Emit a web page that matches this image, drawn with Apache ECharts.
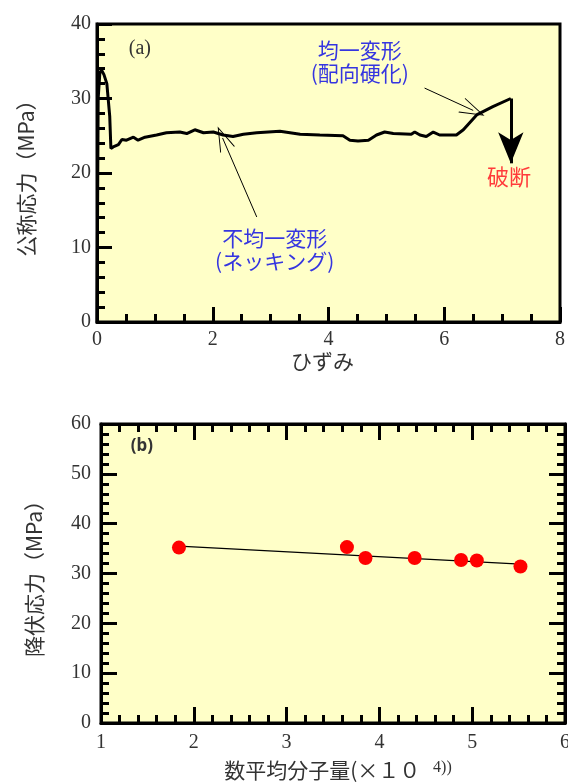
<!DOCTYPE html>
<html>
<head>
<meta charset="utf-8">
<script src="https://cdn.jsdelivr.net/npm/echarts@6/dist/echarts.min.js"></script>
<style>
  html, body { margin: 0; padding: 0; background: #fff; }
  #main { width: 568px; height: 783px; }
</style>
</head>
<body>
<div id="main"></div>
<script>
// (a) nominal stress vs strain
const strainA = [0, 0.02, 0.05, 0.08, 0.12, 0.17, 0.22, 0.24, 0.28, 0.37,
  0.43, 0.51, 0.63, 0.71, 0.83, 1.03, 1.2, 1.43, 1.55, 1.69,
  1.84, 2.01, 2.18, 2.35, 2.53, 2.76, 3.16, 3.51, 3.85, 4.25,
  4.37, 4.51, 4.69, 4.83, 4.97, 5.12, 5.43, 5.49, 5.58, 5.69,
  5.81, 5.92, 6.21, 6.33, 6.56, 6.84, 7.15];
const stressA = [0, 30, 33.5, 33.8, 33.2, 32.0, 27.6, 23.3, 23.5, 23.8,
  24.5, 24.4, 24.8, 24.4, 24.8, 25.1, 25.4, 25.5, 25.3, 25.8,
  25.4, 25.5, 25.1, 24.9, 25.2, 25.4, 25.6, 25.2, 25.1, 25.0,
  24.4, 24.3, 24.4, 25.1, 25.5, 25.3, 25.2, 25.5, 25.1, 24.9,
  25.5, 25.1, 25.1, 25.8, 27.8, 28.9, 30.0];

// (b) yield stress vs number average molecular weight (x10^4)
const molWeight = [1.84, 3.65, 3.85, 4.38, 4.88, 5.05, 5.52];
const yieldStress = [35.2, 35.3, 33.1, 33.1, 32.7, 32.6, 31.4];
const fitX = [1.84, 5.52];
const fitY = [35.5, 31.9];

// tick values
const ticksA_x = [0, 2, 4, 6, 8];
const ticksA_y = [0, 10, 20, 30, 40];
const ticksB_x = [1, 2, 3, 4, 5, 6];
const ticksB_y = [0, 10, 20, 30, 40, 50, 60];

const chart = echarts.init(document.getElementById('main'));

const serif = 'Liberation Serif';
const cjk = 'Noto Sans CJK JP';
const thinHead = 'path://M0,0 L8,25 L7,25 L0,3 L-7,25 L-8,25 Z';

// shared look of every axis: thick black frame, ticks pointing inside
function axis(o) {
  return Object.assign({
    type: 'value',
    axisLine: { show: true, onZero: false, lineStyle: { color: '#000', width: 3 } },
    axisTick: { show: true, inside: true, length: o.tickLen || 15, lineStyle: { color: '#000', width: 3 } },
    minorTick: { show: true, splitNumber: o.minor, length: o.minorLen || 8, lineStyle: { color: '#000', width: 3 } },
    splitLine: { show: false },
    axisLabel: { show: o.label !== false, color: '#333', fontFamily: serif, fontSize: 20, margin: o.margin || 8 }
  }, o.rest);
}

const nameStyle = { color: '#333', fontFamily: cjk, fontSize: 21 };

chart.setOption({
  animation: false,
  grid: [
    { left: 97, top: 24, width: 463, height: 298, show: true, backgroundColor: '#ffffc8',
      borderColor: '#000', borderWidth: 3, outerBoundsMode: 'none' },
    { left: 101, top: 424, width: 464, height: 299, show: true, backgroundColor: '#ffffc8',
      borderColor: '#000', borderWidth: 3, outerBoundsMode: 'none' }
  ],
  xAxis: [
    axis({ minor: 4, rest: {
      gridIndex: 0, min: ticksA_x[0], max: ticksA_x[ticksA_x.length - 1], interval: 2, position: 'bottom',
      name: 'ひずみ', nameLocation: 'middle', nameGap: 24,
      nameTextStyle: Object.assign({ padding: [0, 12, 0, 0] }, nameStyle)
    } }),
    axis({ minor: 5, tickLen: 16, margin: 10, rest: {
      gridIndex: 1, min: ticksB_x[0], max: ticksB_x[ticksB_x.length - 1], interval: 1, position: 'bottom',
      name: '数平均分子量(×１０ {s|4))}', nameLocation: 'middle', nameGap: 37,
      nameTextStyle: Object.assign({ padding: [0, 0, 0, 10],
        rich: { s: { fontFamily: serif, fontSize: 16, lineHeight: 10, color: '#333', verticalAlign: 'top', padding: [0, 0, 0, 8] } } }, nameStyle)
    } }),
    axis({ minor: 5, tickLen: 16, label: false, rest: {
      gridIndex: 1, min: ticksB_x[0], max: ticksB_x[ticksB_x.length - 1], interval: 1, position: 'top'
    } })
  ],
  yAxis: [
    axis({ minor: 5, margin: 6, rest: {
      gridIndex: 0, min: ticksA_y[0], max: ticksA_y[ticksA_y.length - 1], interval: 10, position: 'left',
      name: '公称応力（MPa）', nameLocation: 'middle', nameGap: 60, nameTextStyle: nameStyle
    } }),
    axis({ minor: 5, tickLen: 16, margin: 10, rest: {
      gridIndex: 1, min: ticksB_y[0], max: ticksB_y[ticksB_y.length - 1], interval: 10, position: 'left',
      name: '降伏応力（MPa）', nameLocation: 'middle', nameGap: 56, nameTextStyle: nameStyle
    } }),
    axis({ minor: 5, tickLen: 16, label: false, rest: {
      gridIndex: 1, min: ticksB_y[0], max: ticksB_y[ticksB_y.length - 1], interval: 10, position: 'right'
    } })
  ],
  series: [
    {
      type: 'line', xAxisIndex: 0, yAxisIndex: 0,
      data: strainA.map((x, i) => [x, stressA[i]]),
      showSymbol: false, symbol: 'none',
      lineStyle: { color: '#000', width: 3 },
      z: 3,
      markLine: {
        silent: true, animation: false,
        label: { show: false },
        lineStyle: { color: '#000', width: 1, type: 'solid' },
        symbol: ['none', thinHead], symbolSize: [16, 25],
        data: [
          [{ coord: [2.76, 14.1] }, { coord: [2.17, 24.7] }],
          [{ coord: [5.66, 31.4] }, { coord: [6.50, 28.4] }],
          [{ coord: [7.15, 30.0] },
           { coord: [7.15, 21.3], symbol: 'arrow', symbolSize: [19, 31], lineStyle: { width: 3 } }]
        ]
      },
      markPoint: {
        silent: true, animation: false,
        symbol: 'circle', symbolSize: 1,
        itemStyle: { color: 'rgba(0,0,0,0)' },
        label: { show: true, position: 'inside', fontFamily: cjk, fontSize: 21, lineHeight: 23, color: '#3535e0', align: 'center' },
        data: [
          { coord: [0.74, 36.7], label: { formatter: '(a)', fontFamily: serif, color: '#333', fontSize: 20 } },
          { coord: [4.54, 34.9], label: { formatter: '均一変形\n(配向硬化)' } },
          { coord: [3.07, 9.73], label: { formatter: '不均一変形\n(ネッキング)' } },
          { coord: [7.12, 19.46], label: { formatter: '破断', color: '#ff3b3b', fontSize: 22 } }
        ]
      }
    },
    {
      type: 'line', xAxisIndex: 1, yAxisIndex: 1,
      data: fitX.map((x, i) => [x, fitY[i]]),
      showSymbol: false, symbol: 'none',
      lineStyle: { color: '#000', width: 1.2 }
    },
    {
      type: 'scatter', xAxisIndex: 1, yAxisIndex: 1,
      data: molWeight.map((x, i) => [x, yieldStress[i]]),
      symbolSize: 14,
      itemStyle: { color: '#ff0000', opacity: 1 },
      z: 4,
      markPoint: {
        silent: true, animation: false,
        symbol: 'circle', symbolSize: 1,
        itemStyle: { color: 'rgba(0,0,0,0)' },
        label: { show: true, position: 'inside', color: '#333' },
        data: [
          { coord: [1.44, 55.5], label: { formatter: '(b)', fontFamily: 'Noto Sans', fontWeight: 'bold', fontSize: 17 } }
        ]
      }
    }
  ]
});

window.addEventListener('resize', () => chart.resize());
</script>
</body>
</html>
